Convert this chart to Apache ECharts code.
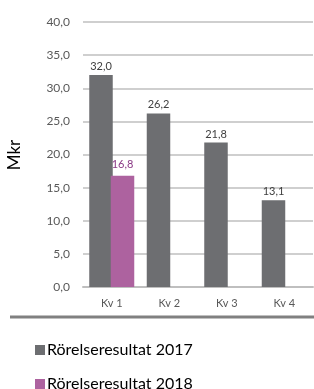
<!DOCTYPE html>
<html><head><meta charset="utf-8">
<script src="https://cdn.jsdelivr.net/npm/echarts@6/dist/echarts.min.js"></script>
<style>html,body{margin:0;padding:0;background:#fff}#c{width:314px;height:389px}</style>
</head><body><div id="c"></div>
<script>
const categories = ['Kv 1', 'Kv 2', 'Kv 3', 'Kv 4'];
const values2017 = [32.0, 26.2, 21.8, 13.1];
const values2018 = [16.8, null, null, null];
const seriesNames = ['Rörelseresultat 2017', 'Rörelseresultat 2018'];
const yTicks = { min: 0, max: 40, interval: 5 };
const axisName = 'Mkr';

const fmt = v => v.toFixed(1).replace('.', ',');
const FONT = 'Lato';
const legendBase = {
  left: 35, itemWidth: 10, itemHeight: 10, padding: 0,
  icon: 'rect', textStyle: { fontSize: 16, color: '#000', fontFamily: FONT, padding: [0, 0, 0, -3] }
};
const chart = echarts.init(document.getElementById('c'));
chart.setOption({
  animation: false,
  textStyle: { fontFamily: FONT },
  grid: { left: 83, right: 1, top: 22, bottom: 102 },
  graphic: [
    { type: 'rect', shape: { x: 10, y: 315.5, width: 304, height: 3 }, style: { fill: '#808080' } },
    { type: 'text', x: 15, y: 155, rotation: Math.PI / 2, style: { text: axisName, font: '17px ' + FONT, fill: '#000', align: 'center', verticalAlign: 'middle' } }
  ],
  legend: [
    Object.assign({ top: 342, data: [seriesNames[0]] }, legendBase),
    Object.assign({ top: 376, data: [seriesNames[1]] }, legendBase)
  ],
  xAxis: {
    type: 'category', data: categories,
    axisLine: { lineStyle: { color: '#bfbfbf', width: 2 } },
    axisTick: { show: false },
    axisLabel: { color: '#595959', fontSize: 11, margin: 11 }
  },
  yAxis: {
    type: 'value', min: yTicks.min, max: yTicks.max, interval: yTicks.interval,
    axisLine: { show: false }, axisTick: { show: false },
    splitLine: { lineStyle: { color: '#bfbfbf', width: 1.5 } },
    axisLabel: { color: '#595959', fontSize: 12, margin: 13, formatter: fmt }
  },
  series: [
    { name: seriesNames[0], type: 'bar', data: values2017, barWidth: 23.5, barGap: '-8.5%',
      itemStyle: { color: '#6d6e71' },
      label: { show: true, position: 'top', distance: 3, color: '#404040', fontSize: 11, formatter: p => fmt(p.value) } },
    { name: seriesNames[1], type: 'bar', data: values2018, barWidth: 23.5,
      itemStyle: { color: '#ad629f' },
      label: { show: true, position: 'top', distance: 6, color: '#8a3a86', fontSize: 11, formatter: p => p.value == null ? '' : fmt(p.value) } }
  ]
});
</script></body></html>
